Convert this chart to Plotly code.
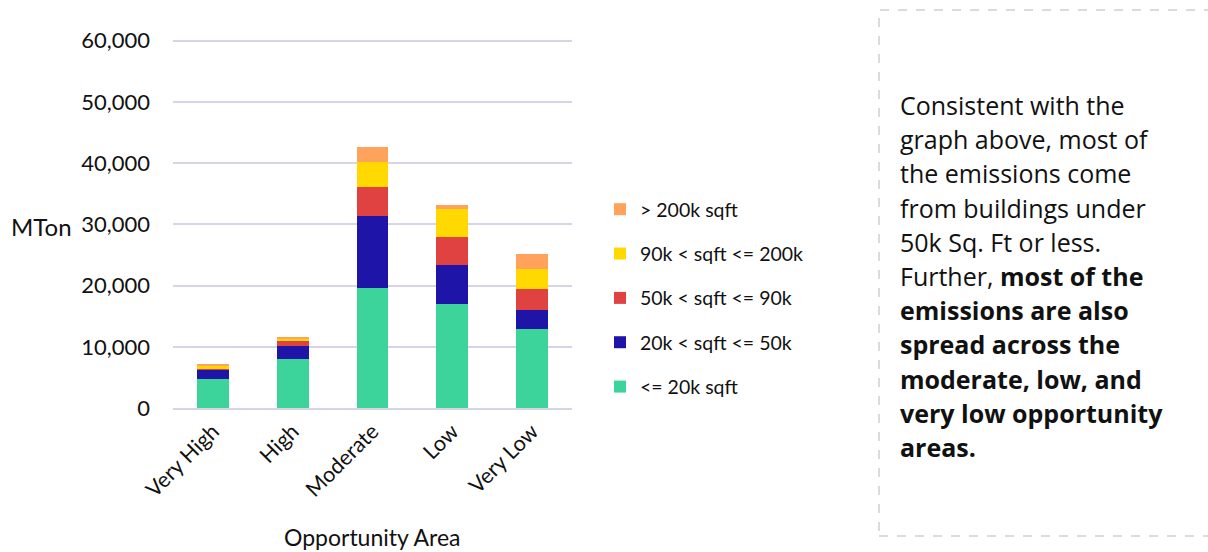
import plotly.graph_objects as go

W, H = 1208, 552

areas = ["Very High", "High", "Moderate", "Low", "Very Low"]

le_20k = [4800, 8050, 19600, 17050, 13000]
k20_50 = [1500, 2150, 11800, 6400, 3100]
k50_90 = [150, 800, 4750, 4550, 3400]
k90_200 = [550, 250, 3950, 4500, 3200]
gt_200k = [50, 200, 2550, 650, 2450]

series_names = ["<= 20k sqft", "20k < sqft <= 50k", "50k < sqft <= 90k",
                "90k < sqft <= 200k", "> 200k sqft"]
series_values = [le_20k, k20_50, k50_90, k90_200, gt_200k]
series_colors = ["#3DD49C", "#1F14A8", "#E04141", "#FFD900", "#FFA35C"]

y_ticks = [0, 10000, 20000, 30000, 40000, 50000, 60000]

note_lines = [
    "Consistent with the",
    "graph above, most of",
    "the emissions come",
    "from buildings under",
    "50k Sq. Ft or less.",
    "Further, <b>most of the</b>",
    "<b>emissions are also</b>",
    "<b>spread across the</b>",
    "<b>moderate, low, and</b>",
    "<b>very low opportunity</b>",
    "<b>areas.</b>",
]

FONT = "Lato, 'Liberation Sans', sans-serif"
NOTE_FONT = "'Open Sans', 'Noto Sans', sans-serif"
INK = "#111111"
GRID = "#D6D4E7"


def px_x(x):
    return x / W


def px_y(y):
    return 1 - y / H


Y_MAX = 60000
Y_TOP = 61000  # headroom so the 60,000 gridline is drawn
y0_px, y60_px = 408.3, 40.5
top_px = y0_px - (y0_px - y60_px) * Y_TOP / Y_MAX

fig = go.Figure()
n = len(series_names)
for i, (name, vals, col) in enumerate(zip(series_names, series_values, series_colors)):
    fig.add_trace(go.Bar(
        x=areas, y=vals, name=name,
        marker=dict(color=col, line=dict(width=0)),
        legendgroup=f"g{i}",
        legendrank=n - i,
    ))

fig.update_layout(
    width=W, height=H,
    barmode="stack",
    bargap=0.6,
    paper_bgcolor="white",
    plot_bgcolor="white",
    margin=dict(l=0, r=0, t=0, b=0),
    font=dict(family=FONT, size=19, color=INK),
    showlegend=True,
    legend=dict(
        x=px_x(600), y=px_y(190), xanchor="left", yanchor="top",
        traceorder="grouped", tracegroupgap=16,
        font=dict(family=FONT, size=19.5, color=INK),
        bgcolor="rgba(0,0,0,0)",
        itemwidth=30,
    ),
    xaxis=dict(
        domain=[px_x(173), px_x(572)],
        tickangle=-45,
        tickfont=dict(family=FONT, size=21.5, color=INK),
        showgrid=False,
        showline=True, linecolor=GRID, linewidth=2,
        ticks="", automargin=False,
    ),
    yaxis=dict(
        domain=[px_y(y0_px), px_y(top_px)],
        range=[0, Y_TOP],
        tickvals=y_ticks,
        tickformat=",d",
        tickfont=dict(family=FONT, size=22, color=INK),
        showgrid=True, gridcolor=GRID, gridwidth=2,
        zeroline=False,
        showline=False, ticks="",
        ticklabelstandoff=22,
        automargin=False,
    ),
)

annotations = [
    dict(text="MTon", x=px_x(41), y=px_y(226), xref="paper", yref="paper",
         xanchor="center", yanchor="middle", showarrow=False,
         font=dict(family=FONT, size=24, color=INK)),
    dict(text="Opportunity Area", x=px_x(372), y=px_y(537), xref="paper", yref="paper",
         xanchor="center", yanchor="middle", showarrow=False, borderpad=0,
         font=dict(family=FONT, size=23, color=INK)),
]
line_y0, line_step = 105, 34.2
for k, line in enumerate(note_lines):
    annotations.append(dict(
        text=line, x=px_x(898), y=px_y(line_y0 + k * line_step),
        xref="paper", yref="paper", xanchor="left", yanchor="middle",
        showarrow=False, font=dict(family=NOTE_FONT, size=25, color=INK),
    ))
fig.update_layout(annotations=annotations)

fig.add_shape(
    type="rect", xref="paper", yref="paper",
    x0=px_x(879), x1=px_x(1215), y0=px_y(536), y1=px_y(10),
    line=dict(color="#CFCFCF", width=1.5, dash="dash"),
    fillcolor="rgba(0,0,0,0)",
)

fig.write_html("out.html")
